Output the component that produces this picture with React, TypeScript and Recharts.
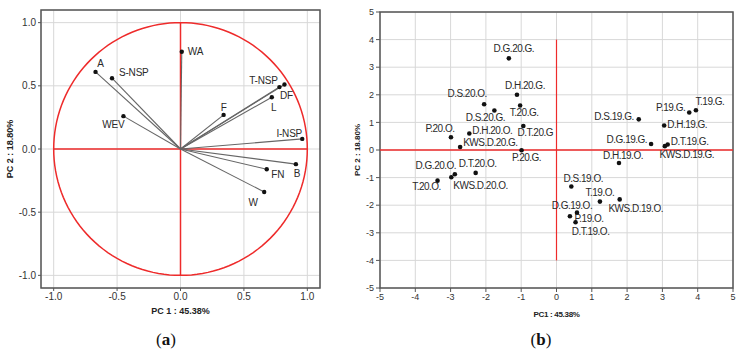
import React from 'react';
import {
  ScatterChart,
  Scatter,
  XAxis,
  YAxis,
  CartesianGrid,
  ReferenceLine,
  ReferenceArea,
  Label,
} from 'recharts';

// (a) loadings
const varNames = ['WA', 'A', 'S-NSP', 'WEV', 'F', 'T-NSP', 'DF', 'L', 'I-NSP', 'B', 'FN', 'W'];
const varPc1 = [0.01, -0.67, -0.54, -0.45, 0.34, 0.78, 0.82, 0.72, 0.96, 0.91, 0.68, 0.66];
const varPc2 = [0.77, 0.61, 0.56, 0.26, 0.27, 0.49, 0.51, 0.41, 0.08, -0.12, -0.16, -0.34];
const loadTicks = [-1, -0.5, 0, 0.5, 1];

// (b) scores
const sampleNames = [
  'D.G.20.G.', 'D.H.20.G.', 'D.S.20.O.', 'T.20.G.', 'D.S.20.G.', 'D.T.20.G', 'D.H.20.O.',
  'P.20.O.', 'KWS.D.20.G.', 'P.20.G.', 'D.S.19.G.', 'P.19.G.', 'T.19.G.', 'D.H.19.G.',
  'D.G.19.G.', 'D.T.19.G.', 'KWS.D.19.G.', 'D.H.19.O.', 'D.G.20.O.', 'D.T.20.O.', 'T.20.O.',
  'KWS.D.20.O.', 'D.S.19.O.', 'T.19.O.', 'KWS.D.19.O.', 'D.G.19.O.', 'P.19.O.', 'D.T.19.O.',
];
const samplePc1 = [
  -1.35, -1.12, -2.05, -1.03, -1.76, -0.94, -2.47,
  -2.99, -2.73, -0.99, 2.33, 3.76, 3.95, 3.05,
  2.68, 3.15, 3.07, 1.77, -2.88, -2.29, -3.37,
  -2.98, 0.42, 1.23, 1.79, 0.38, 0.58, 0.54,
];
const samplePc2 = [
  3.32, 2.0, 1.66, 1.61, 1.43, 0.87, 0.6,
  0.46, 0.11, -0.01, 1.11, 1.36, 1.44, 0.89,
  0.22, 0.2, 0.14, -0.47, -0.88, -0.83, -1.11,
  -0.99, -1.32, -1.87, -1.79, -2.4, -2.27, -2.62,
];
const scoreTicks = [-5, -4, -3, -2, -1, 0, 1, 2, 3, 4, 5];

const loadings = varNames.map((name, i) => ({ name, x: varPc1[i], y: varPc2[i] }));
const scores = sampleNames.map((name, i) => ({ name, x: samplePc1[i], y: samplePc2[i] }));

// unit correlation circle
const unitCircle = Array.from({ length: 145 }, (_, i) => {
  const t = (i / 144) * Math.PI * 2;
  return { x: Math.cos(t), y: Math.sin(t) };
});

// label placement [dx, dy, anchor]
const varLabelPos: Record<string, [number, number, string]> = {
  WA: [6, 0, 'start'],
  A: [5, -8, 'middle'],
  'S-NSP': [7, -6, 'start'],
  WEV: [-10, 8, 'middle'],
  F: [0, -7, 'middle'],
  'T-NSP': [-16, -7, 'middle'],
  DF: [2, 11, 'middle'],
  L: [2, 10, 'middle'],
  'I-NSP': [-13, -5, 'middle'],
  B: [1, 9, 'middle'],
  FN: [11, 5, 'middle'],
  W: [-11, 11, 'middle'],
};

const sampleLabelPos: Record<string, [number, number, string]> = {
  'D.G.20.G.': [5, -10, 'middle'],
  'D.H.20.G.': [8, -9, 'middle'],
  'D.S.20.O.': [-17, -11, 'middle'],
  'T.20.G.': [4, 7, 'middle'],
  'D.S.20.G.': [-9, 7, 'middle'],
  'D.T.20.G': [12, 7, 'middle'],
  'D.H.20.O.': [3, -3, 'start'],
  'P.20.O.': [-11, -9, 'middle'],
  'KWS.D.20.G.': [3, -4, 'start'],
  'P.20.G.': [5, 7, 'middle'],
  'D.S.19.G.': [-5, -3, 'end'],
  'P.19.G.': [-4, -5, 'end'],
  'T.19.G.': [14, -9, 'middle'],
  'D.H.19.G.': [3, -1, 'start'],
  'D.G.19.G.': [-4, -4, 'end'],
  'D.T.19.G.': [3, -3, 'start'],
  'KWS.D.19.G.': [22, 8, 'middle'],
  'D.H.19.O.': [4, -7, 'middle'],
  'D.G.20.O.': [-19, -9, 'middle'],
  'D.T.20.O.': [2, -9, 'middle'],
  'T.20.O.': [-11, 6, 'middle'],
  'KWS.D.20.O.': [2, 8, 'start'],
  'D.S.19.O.': [12, -8, 'middle'],
  'T.19.O.': [0, -9, 'middle'],
  'KWS.D.19.O.': [16, 9, 'middle'],
  'D.G.19.O.': [2, -11, 'middle'],
  'P.19.O.': [12, 6, 'middle'],
  'D.T.19.O.': [15, 9, 'middle'],
};

const RED = '#ee2b2b';
const FRAME = '#555';
const GRID = '#d8d8d8';
const FONT = 'Arial, "Liberation Sans", sans-serif';

const makeDot = (pos: Record<string, [number, number, string]>, r: number, fs: number, ls: number) =>
  (props: any) => {
    const { cx, cy, payload } = props;
    const [dx, dy, anchor] = pos[payload.name] || [4, 0, 'start'];
    return (
      <g>
        <circle cx={cx} cy={cy} r={r} fill="#111" />
        <text
          x={cx + dx}
          y={cy + dy}
          textAnchor={anchor as any}
          dominantBaseline="central"
          fontSize={fs}
          fontFamily={FONT}
          letterSpacing={ls}
          fill="#2a2a2a"
        >
          {payload.name}
        </text>
      </g>
    );
  };

function LoadingPlot() {
  return (
    <ScatterChart width={340} height={356} margin={{ top: 10, right: 20, bottom: 43, left: 6 }}>
      <CartesianGrid stroke={GRID} />
      <XAxis
        type="number"
        dataKey="x"
        domain={[-1.1, 1.1]}
        ticks={loadTicks}
        allowDataOverflow
        tickFormatter={(v: number) => v.toFixed(1)}
        axisLine={false}
        tickLine={{ stroke: FRAME }}
        tickSize={3}
        height={25}
        tick={{ fontSize: 10, fill: '#333', fontFamily: FONT }}
      >
        <Label value="PC 1 : 45.38%" position="bottom" offset={-5}
          style={{ fontSize: 9, fontWeight: 'bold', fill: '#222', fontFamily: FONT }} />
      </XAxis>
      <YAxis
        type="number"
        dataKey="y"
        domain={[-1.1, 1.1]}
        ticks={loadTicks}
        allowDataOverflow
        tickFormatter={(v: number) => v.toFixed(1)}
        axisLine={false}
        tickLine={{ stroke: FRAME }}
        tickSize={3}
        width={35}
        tick={{ fontSize: 10, fill: '#333', fontFamily: FONT }}
      >
        <Label value="PC 2 : 18.80%" angle={-90} position="insideLeft" offset={4}
          style={{ fontSize: 9, fontWeight: 'bold', fill: '#222', fontFamily: FONT, textAnchor: 'middle' }} />
      </YAxis>
      <ReferenceArea x1={-1.1} x2={1.1} y1={-1.1} y2={1.1} fill="none" stroke={FRAME} strokeWidth={1.5} />
      <ReferenceLine segment={[{ x: -1, y: 0 }, { x: 1, y: 0 }]} stroke={RED} strokeWidth={1.5} />
      <ReferenceLine segment={[{ x: 0, y: -1 }, { x: 0, y: 1 }]} stroke={RED} strokeWidth={1.5} />
      <Scatter
        data={unitCircle}
        line={{ stroke: RED, strokeWidth: 1.5 }}
        lineType="joint"
        shape={() => <g />}
        isAnimationActive={false}
      />
      {loadings.map((d) => (
        <ReferenceLine
          key={d.name}
          segment={[{ x: 0, y: 0 }, { x: d.x, y: d.y }]}
          stroke="#666"
          strokeWidth={1.1}
        />
      ))}
      <Scatter data={loadings} shape={makeDot(varLabelPos, 2.2, 10, -0.2)} isAnimationActive={false} />
    </ScatterChart>
  );
}

function ScorePlot() {
  return (
    <ScatterChart width={401} height={356} margin={{ top: 12, right: 8, bottom: 43, left: 18 }}>
      <CartesianGrid stroke={GRID} />
      <XAxis
        type="number"
        dataKey="x"
        domain={[-5, 5]}
        ticks={scoreTicks}
        allowDataOverflow
        axisLine={false}
        tickLine={{ stroke: FRAME }}
        tickSize={4}
        height={25}
        tick={{ fontSize: 9, fill: '#333', fontFamily: FONT }}
      >
        <Label value="PC1 : 45.38%" position="bottom" offset={-2}
          style={{ fontSize: 8, fontWeight: 'bold', fill: '#222', fontFamily: FONT, letterSpacing: -0.3 }} />
      </XAxis>
      <YAxis
        type="number"
        dataKey="y"
        domain={[-5, 5]}
        ticks={scoreTicks}
        allowDataOverflow
        axisLine={false}
        tickLine={{ stroke: FRAME }}
        tickSize={4}
        width={22}
        tick={{ fontSize: 9, fill: '#333', fontFamily: FONT }}
      >
        <Label value="PC 2 : 18.80%" angle={-90} position="insideLeft" offset={-1}
          style={{ fontSize: 8, fontWeight: 'bold', fill: '#222', fontFamily: FONT, textAnchor: 'middle' }} />
      </YAxis>
      <ReferenceArea x1={-5} x2={5} y1={-5} y2={5} fill="none" stroke={FRAME} strokeWidth={1.5} />
      <ReferenceLine segment={[{ x: -5, y: 0 }, { x: 5, y: 0 }]} stroke={RED} strokeWidth={1.5} />
      <ReferenceLine segment={[{ x: 0, y: -4 }, { x: 0, y: 4 }]} stroke={RED} strokeWidth={1.2} />
      <Scatter data={scores} shape={makeDot(sampleLabelPos, 2.3, 10, -0.5)} isAnimationActive={false} />
    </ScatterChart>
  );
}

const panelTag: React.CSSProperties = {
  position: 'absolute',
  top: 330,
  fontFamily: '"Liberation Serif", "Times New Roman", serif',
  fontSize: 17,
  color: '#111',
  transform: 'translateX(-50%)',
};

export default function App() {
  return (
    <div style={{ position: 'absolute', left: 0, top: 0, width: 741, height: 356, background: '#fff' }}>
      <div style={{ position: 'absolute', left: 0, top: 0 }}>
        <LoadingPlot />
      </div>
      <div style={{ position: 'absolute', left: 340, top: 0 }}>
        <ScorePlot />
      </div>
      <div style={{ ...panelTag, left: 166 }}>(<b>a</b>)</div>
      <div style={{ ...panelTag, left: 541 }}>(<b>b</b>)</div>
    </div>
  );
}
